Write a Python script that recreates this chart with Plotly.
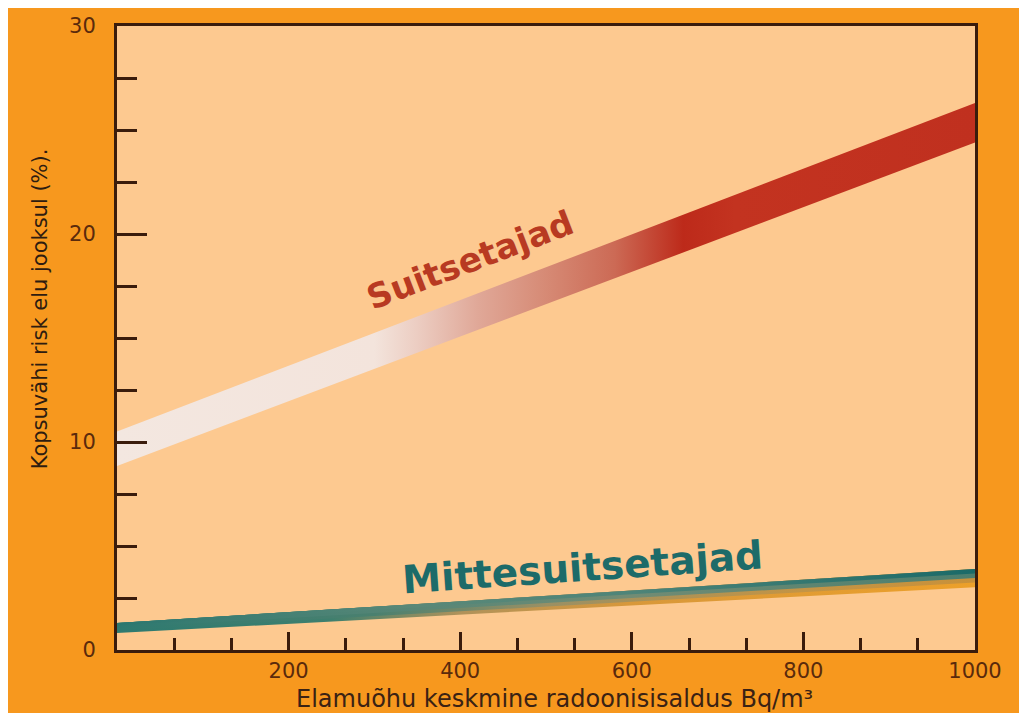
import plotly.graph_objects as go
import numpy as np

# ---- data ----
radon = [0, 1000]                       # Bq/m3
smoker_low = [8.85, 24.4]               # lower edge of smokers' band (%)
smoker_high = [10.5, 26.3]              # upper edge of smokers' band (%)
nonsmoker_low = [0.82, 3.02]            # lower edge of non-smokers' band (%)
nonsmoker_high = [1.30, 3.90]           # upper edge of non-smokers' band (%)
x_tick_vals = [200, 400, 600, 800, 1000]
x_tick_text = ["200", "400", "600", "800", "1000"]
y_tick_vals = [0, 10, 20, 30]
y_tick_text = ["0", "10", "20", "30"]

label_smokers = "Suitsetajad"
label_nonsmokers = "Mittesuitsetajad"
x_title = "Elamuõhu keskmine radoonisisaldus Bq/m³"
y_title = "Kopsuvähi risk elu jooksul (%)."

# ---- styles ----
ORANGE = "#F7981E"
PEACH = "#FDC990"
AXIS = "#3A1C0C"
TICKFONT = dict(family="DejaVu Sans", size=21, color="#5A2A0C")

smoker_scale = [
    [0.0, "#F3E7E0"], [0.30, "#F3E4DC"], [0.35, "#ECCDC2"], [0.42, "#E0A898"],
    [0.50, "#D68A75"], [0.58, "#CC6A55"], [0.66, "#BD2A1A"], [0.72, "#C33320"],
    [1.0, "#C0301F"],
]
nonsmoker_scales = [  # from bottom sub-band to top sub-band
    [[0, "#2E7A70"], [0.25, "#3E7F6E"], [0.4, "#B0925A"], [0.6, "#D8983A"], [1, "#ECA02A"]],
    [[0, "#2E7A70"], [0.3, "#4A806F"], [0.5, "#9A9064"], [0.8, "#C39445"], [1, "#C8913A"]],
    [[0, "#2D7970"], [0.35, "#588676"], [0.6, "#728C74"], [1, "#4A7E6E"]],
    [[0, "#2B776F"], [0.35, "#5A8878"], [0.6, "#4E8478"], [1, "#1A6A68"]],
]

fig = go.Figure()

# smokers' band
fig.add_trace(go.Scatter(x=radon, y=smoker_low, mode="lines", line=dict(width=0),
                         showlegend=False, hoverinfo="skip"))
fig.add_trace(go.Scatter(x=radon, y=smoker_high, mode="lines", line=dict(width=0),
                         fill="tonexty",
                         fillgradient=dict(type="horizontal", colorscale=smoker_scale,
                                           start=radon[0], stop=radon[-1]),
                         showlegend=False, hoverinfo="skip"))

# non-smokers' band: layered sub-bands (each from its lower fraction up to the top edge)
lo = np.array(nonsmoker_low)
hi = np.array(nonsmoker_high)
n = len(nonsmoker_scales)
for i, cs in enumerate(nonsmoker_scales):
    b = lo + (hi - lo) * i / n
    fig.add_trace(go.Scatter(x=radon, y=b, mode="lines", line=dict(width=0),
                             showlegend=False, hoverinfo="skip"))
    fig.add_trace(go.Scatter(x=radon, y=hi, mode="lines", line=dict(width=0),
                             fill="tonexty",
                             fillgradient=dict(type="horizontal", colorscale=cs,
                                               start=radon[0], stop=radon[-1]),
                             showlegend=False, hoverinfo="skip"))

fig.add_annotation(x=411, y=18.75, text=label_smokers, showarrow=False, textangle=-21,
                   font=dict(family="DejaVu Sans", size=34, color="#B83A22", weight="bold"))
fig.add_annotation(x=542, y=3.95, text=label_nonsmokers, showarrow=False, textangle=-4,
                   font=dict(family="DejaVu Sans", size=39, color="#1D6B69", weight="bold"))

fig.add_annotation(xref="paper", yref="paper", x=0, y=0.546, xshift=-77, text=y_title,
                   showarrow=False, textangle=-90, xanchor="center", yanchor="middle",
                   font=dict(family="DejaVu Sans", size=21, color="#2E1C10"))
fig.add_annotation(xref="paper", yref="paper", x=0.5, y=0, xshift=8, yshift=-49,
                   text=x_title, showarrow=False, xanchor="center", yanchor="middle",
                   font=dict(family="DejaVu Sans", size=24, color="#3A2214"))

fig.update_xaxes(range=[0, 1000], showline=True, linecolor=AXIS, linewidth=3, mirror=True,
                 showgrid=False, zeroline=False,
                 tickvals=x_tick_vals, ticktext=x_tick_text,
                 ticks="inside", ticklen=18, tickwidth=3, tickcolor=AXIS,
                 minor=dict(dtick=200 / 3, tick0=0, ticks="inside", ticklen=12,
                            tickwidth=3, tickcolor=AXIS, showgrid=False),
                 tickfont=TICKFONT, ticklabelstandoff=0)
fig.update_yaxes(range=[0, 30], showline=True, linecolor=AXIS, linewidth=3, mirror=True,
                 showgrid=False, zeroline=False,
                 tickvals=y_tick_vals, ticktext=y_tick_text,
                 ticks="inside", ticklen=30, tickwidth=3, tickcolor=AXIS,
                 minor=dict(dtick=2.5, tick0=0, ticks="inside", ticklen=20,
                            tickwidth=3, tickcolor=AXIS, showgrid=False),
                 tickfont=TICKFONT, ticklabelstandoff=14)

# the page adds an 8px white margin at top/left, as in the reference
fig.update_layout(width=1019, height=705,
                  margin=dict(l=109, r=52, t=18, b=63, autoexpand=False),
                  paper_bgcolor=ORANGE, plot_bgcolor=PEACH, showlegend=False)

fig.write_html("out.html")
